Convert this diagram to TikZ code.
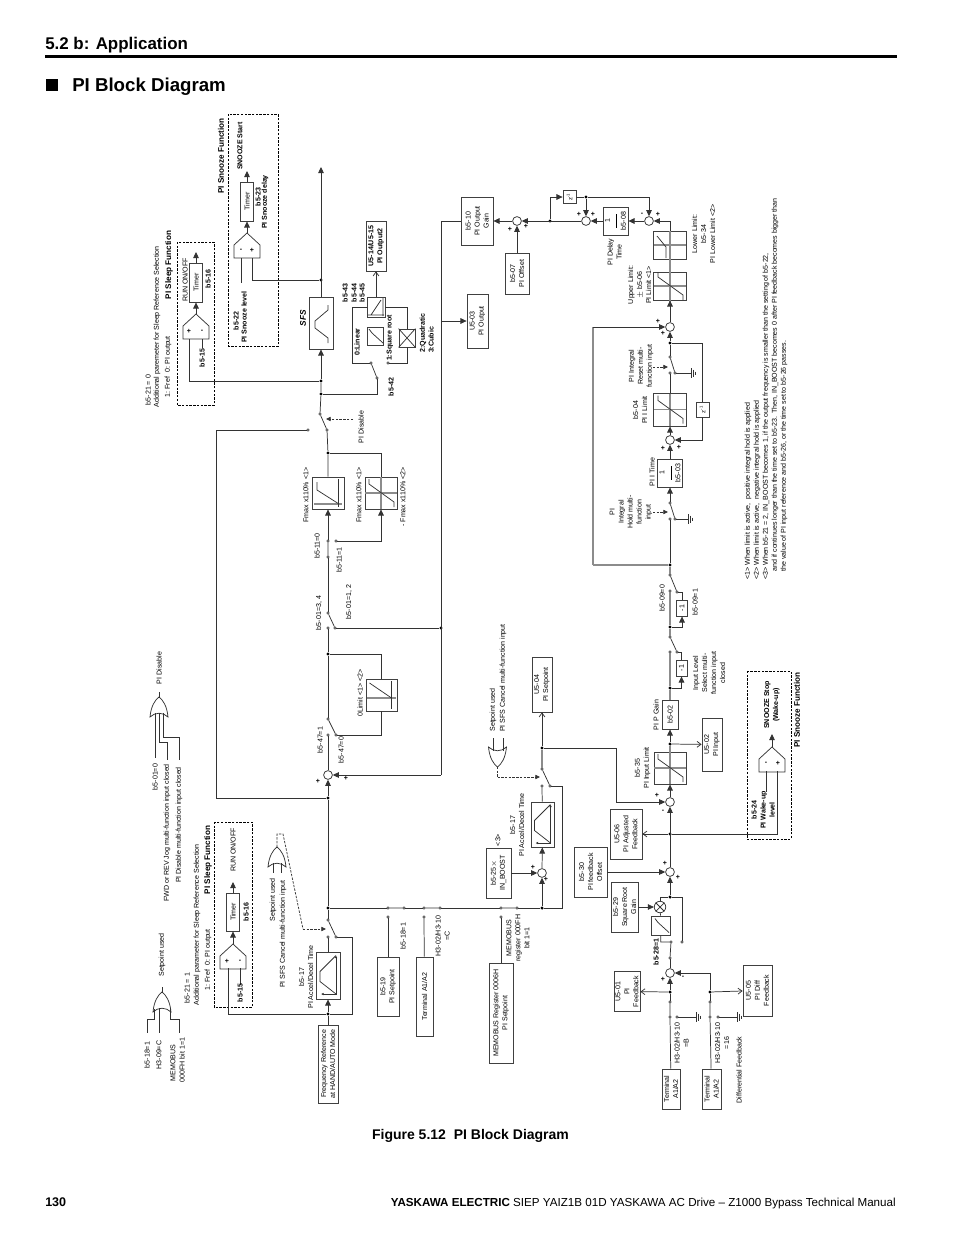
\documentclass[tikz,border=0pt]{standalone}
\usepackage{fontspec}
\setmainfont{Liberation Sans}
\usetikzlibrary{arrows.meta}
\newcommand{\fsm}{\fontsize{5.3}{6.75}\selectfont}
\newcommand{\fsb}{\fontsize{5.3}{6.75}\selectfont\bfseries}
\newcommand{\fsh}{\fontsize{6.1}{7.5}\selectfont\bfseries}
\tikzset{
  every pic/.style={yscale=-1},
  wire/.style={line width=.55pt,draw=black!80},
  gw/.style={line width=1pt,draw=black!45},
  ar/.style={wire,-{Triangle[length=4.6pt,width=4.2pt]}},
  oar/.style={wire,-{Straight Barb[length=3pt,width=4.4pt]}},
  bx/.style 2 args={draw=black!75,line width=.6pt,fill=white,rotate=90,align=center,inner sep=0pt,font=\fsm,minimum height=#1*0.75pt,minimum width=#2*0.75pt},
  sumc/.style={circle,draw=black!80,line width=.55pt,fill=white,inner sep=0pt,minimum size=6.6pt},
  cont/.style={circle,draw=black!80,line width=.4pt,fill=white,inner sep=0pt,minimum size=1.8pt},
  jn/.style={circle,fill=black,inner sep=0pt,minimum size=2.6pt},
  lab/.style={rotate=90,align=center,inner sep=0pt,font=\fsm},
  labb/.style={rotate=90,align=center,inner sep=0pt,font=\fsb},
  labh/.style={rotate=90,align=center,inner sep=0pt,font=\fsh},
  sgn/.style={inner sep=0pt,font=\fsb},
  dbox/.style={line width=.6pt,dash pattern=on 1.8pt off 1pt},
  ddash/.style={wire,dash pattern=on 1.8pt off 1pt},
  limit/.pic={
    \draw[gw] (-16,0) -- (16,0) (0,-16) -- (0,16);
    \draw[wire] (-12,-14) -- (-12,-9) -- (13,9) -- (13,14);},
  ramp/.pic={
    \draw[wire,{Latex[length=2pt,width=2pt]}-{Latex[length=2pt,width=2pt]}] (8,-20) -- (8,18.5) -- (-7,18.5);
    \draw[wire] (8,-20) -- (-8,-4) -- (-8,6) -- (8,18.5);},
  sqroot/.pic={\draw[wire] (8,7) -- (-3,-3) -- (-6,-7);},
  orgate/.pic={
    \draw[wire,fill=white] (0,0) .. controls (4,3) and (8,9) .. (9,20) .. controls (4,15) and (-4,15) .. (-9,20) .. controls (-8,9) and (-4,3) .. (0,0) -- cycle;},
  cmpr/.pic={
    \draw[wire] (0,0) -- (13,12) -- (13,25) -- (-13,25) -- (-13,12) -- cycle;},
  grnd/.pic={\draw[wire] (0,-5) -- (0,5) (2,-3.5) -- (2,3.5) (4,-1.5) -- (4,1.5);}
}
\begin{document}
\begin{tikzpicture}[x=0.75pt,y=0.75pt,yscale=-1,xscale=1]
\useasboundingbox (0,0) rectangle (954,1235);
\fill[white] (0,0) rectangle (954,1235);

% page header and footer
\node[anchor=base west,inner sep=0pt,font=\fontsize{12.7}{14}\selectfont\bfseries] (hdsec) at (45,49) {5.2 b: Application};
\fill (45,55) rectangle (897,58);
\fill (46,79) rectangle (58,91);
\node[anchor=base west,inner sep=0pt,font=\fontsize{14}{16}\selectfont\bfseries] (hdttl) at (72,91) {PI Block Diagram};
\node[anchor=base,inner sep=0pt,font=\fontsize{10.5}{12}\selectfont\bfseries] (figcap) at (470.5,1139) {Figure 5.12\ \ PI Block Diagram};
\node[anchor=base west,inner sep=0pt,font=\fontsize{9.4}{11}\selectfont\bfseries] (pgno) at (45,1206) {130};
\node[anchor=base east,inner sep=0pt,font=\fontsize{8.72}{11}\selectfont] (pgft) at (896,1206) {\textbf{YASKAWA ELECTRIC} SIEP YAIZ1B 01D YASKAWA AC Drive -- Z1000 Bypass Technical Manual};

%Dashed frames
\draw[dbox] (228,114) rectangle (278,346);
\draw[dbox] (177,242) rectangle (214,405);
\draw[dbox] (214,822) rectangle (252,1007);
\draw[dbox] (747,671) rectangle (791,839);

%Summing points
\foreach \nm/\cx/\cy in {sA/517/221,sB/586/221,sC/649/221,sD/670/327,sE/670/440,sF/670/802,sG/670/872,sH/670/973,sI/542/873,sJ/328/775}
  {\node[sumc] (\nm) at (\cx,\cy) {};}
\node[sumc,minimum size=8.6pt] (mul) at (660,907) {};
\draw[wire] (mul.45) -- (mul.225) (mul.135) -- (mul.315);

%Contacts
\foreach \nm/\cx/\cy in {pdu/320/414,pdb/327/430,pdl/308/430,lnu/371/363,lnb/388/363,lnp/377/378,
  fbu/328/541,fba/328/557,fbb/336/541,oau/328/613,oab/328/628,oac/335/628,lmu/328/719,lma/328/735,lmb/336/735,
  cnu/328/920,cna/328/937,cnb/336/937,spa/388/908,spb/404/908,spc/388/917,tma/424/908,tmb/440/908,tmc/424/917,
  mba/501/908,mbb/517/908,mbc/501/917,acu/542/769,aca/542/786,acb/550/786,
  rsu/670/357,rsa/670/373,rsb/675/373,hdu/670/503,hda/670/519,hdb/675/519,
  nau/670/575,naa/670/591,nab/677/592,nbu/670/637,nba/670/652,nbb/677/652,
  sru/671/942,srv/682/942,srp/670/958,fbt/670/1002,fbl/670/1017,fbg/677/1017,dft/710/1002,dfl/710/1017,dfg/718/1017}
  {\node[cont] (\nm) at (\cx,\cy) {};}

%Junctions
\foreach \nm/\cx/\cy in {jsn/321/280,jsl/321/381,jlk/321/394,jfi/328/453,jlm/328/654,jbk/441/628,jmn/328/798,jrf/328/908,jfq/328/1014,
  jbt/542/908,jst/542/748,jil/670/565,jna/670/627,jnb/670/688,jpi/670/744,jfd/670/834,jsq/670/897,jfa/670/992,jfc/710/992,
  jrs/670/343,jzf/550/221,jzb/586/197}
  {\node[jn] (\nm) at (\cx,\cy) {};}

%Free corners and line ends
\foreach \nm/\cx/\cy in {ctop/321/167,cga/189/381,cgb/189/339,cgc/202/339,cgd/202/348,cge/252/258,cgf/252/280,cgg/241/258,cgh/241/283,
  capa/196/314,cena/196/252,capb/247/233,cenb/247/171,capc/233/944,cenc/233/882,capd/772/747,cend/772/734,
  cla/228/968,clb/228/1014,clc/240/968,cld/240/985,cra/352/1014,crb/352/937,
  cwa/777/771,cwb/777/834,cwc/766/771,cwd/766/792,cpa/441/221,cpb/441/775,cpc/441/321,
  lna/352/363,lnc/352/307,lnd/407/307,lne/407/363,lnf/377/394,bka/216/430,bkb/216/798,
  bta/562/908,btb/562/786,ina/616/748,inb/616/802,ica/593/565,icb/593/327,lrc/670/221,msa/660/897,sra/660.7/942,
  ora/277/847,orb/277/834,orc/283/834,ord/303/929,ore/326/929,ofa/497.5/767,ofb/497.5/777,ofc/540/777}
  {\coordinate (\nm) at (\cx,\cy);}

%Blocks
\node[bx={24}{52},font=\fsb] (sfs) at (321,323) {};
\node[bx={13}{39},font=\fsm] (tmr) at (196,282.5) {Timer};
\node[bx={13}{39},font=\fsm] (tms) at (247,201.5) {Timer};
\node[bx={13}{38},font=\fsm] (tml) at (233,912) {Timer};
\node[bx={20}{50}] (uxa) at (376,246) {\fsb U5-14/U5-15\\\fsb PI Output2};
\node[bx={18}{20}] (lnl) at (376,307) {};
\node[bx={16}{18}] (sqa) at (375,336) {};
\node[bx={16}{18}] (xbx) at (407,338) {};
\node[bx={21}{54}] (uoc) at (477.5,321) {U5-03\\PI Output};
\node[bx={32}{48}] (bog) at (477,221) {b5-10\\PI Output\\Gain};
\node[bx={24}{41}] (bof) at (517,273.5) {b5-07\\PI Offset};
\node[bx={13}{13}] (zaa) at (569.5,197) {\fontsize{4.5}{5}\selectfont z\textsuperscript{-1}};
\node[bx={25}{28}] (bdl) at (615.5,221) {1\\[-1.5pt]\rule{10pt}{.4pt}\\b5-08};
\node[bx={33}{28}] (lol) at (670,245) {};
\node[bx={33}{28}] (upl) at (670,286) {};
\node[bx={13}{15}] (zbb) at (702.5,409.5) {\fontsize{4.5}{5}\selectfont z\textsuperscript{-1}};
\node[bx={33}{33}] (ilm) at (670,409.5) {};
\node[bx={25}{28}] (bit) at (670,473) {1\\[-1.5pt]\rule{10pt}{.4pt}\\b5-03};
\node[bx={11}{16}] (nga) at (682,608) {-1};
\node[bx={11}{16}] (ngb) at (681.5,668) {-1};
\node[bx={16}{29}] (bpg) at (670,714.5) {b5-02};
\node[bx={20}{53}] (uin) at (712,744.5) {U5-02\\PI Input};
\node[bx={32}{32}] (ilt) at (670,768) {};
\node[bx={32}{50}] (uaj) at (626,834) {U5-06\\PI Adjusted\\Feedback};
\node[bx={33}{50}] (bfo) at (590.5,872) {b5-30\\PI feedback\\Offset};
\node[bx={27}{50}] (bsr) at (624.5,907) {b5-29\\Square Root\\Gain};
\node[bx={19}{19}] (sqb) at (661,925.5) {};
\node[bx={26}{40}] (ufb) at (627,991.5) {U5-01\\PI\\Feedback};
\node[bx={29}{51}] (udf) at (757.5,990.5) {U5-05\\PI Diff\\Feedback};
\node[bx={18}{40}] (tra) at (671,1089) {Terminal\\A1/A2};
\node[bx={19}{40}] (trb) at (711.5,1089) {Terminal\\A1/A2};
\node[bx={20}{55}] (usp) at (542,684.5) {U5-04\\PI Setpoint};
\node[bx={23}{45}] (arb) at (542.5,824.5) {};
\node[bx={25}{50}] (bbs) at (498.5,873) {b5-25$\times$\\IN\_BOOST};
\node[bx={24}{47}] (arl) at (328,975.5) {};
\node[bx={20}{78}] (frq) at (328,1064) {Frequency Reference\\at HAND/AUTO Mode};
\node[bx={22}{59}] (bsp) at (388,986.5) {b5-19\\PI Setpoint};
\node[bx={17}{79}] (tmm) at (424.5,996.5) {Terminal A1/A2};
\node[bx={24}{100}] (mbr) at (501,1013) {MEMOBUS Register 0006H\\PI Setpoint};
\node[bx={32}{32}] (fma) at (328,493) {};
\node[bx={32}{32}] (fmb) at (381,493) {};
\node[bx={31}{32}] (lmz) at (381.5,695) {};

%Block inner marks
\draw[wire] (328,305) -- (328,310) -- (315,321) -- (315,328) -- (328,338) -- (328,343);
\pic at (670,286) {limit};
\pic at (670,409.5) {limit};
\pic at (670,768) {limit};
\pic at (381,493) {limit};
\draw[gw] (654,245) -- (686,245) (670,231) -- (670,259);
\draw[wire] (657,236) -- (666,247) -- (666,258);
\draw[gw] (314,504) -- (342,504); \draw[wire] (338,479) -- (338,507);
\draw[wire] (317,482) -- (317,490) -- (339,504);
\draw[gw] (367,698) -- (396,698); \draw[wire] (391.5,681) -- (391.5,709);
\draw[wire] (369.5,683) -- (391.5,698);
\draw[wire] (371,315) -- (381,300) (383,298) -- (383,316) (368,315) -- (384,315);
\pic at (375,336) {sqroot};
\pic at (661,925.5) {sqroot};
\pic at (328,975.5) {ramp};
\pic at (542.5,824.5) {ramp};
\draw[wire] (xbx.north west) -- (xbx.south east) (xbx.north east) -- (xbx.south west);

%Comparators and gates
\pic at (capa) {cmpr};
\pic at (capb) {cmpr};
\pic at (capc) {cmpr};
\pic at (capd) {cmpr};
\coordinate (ogt) at (159,697);
\coordinate (ogl) at (162,992);
\coordinate (ogs) at (277,847);
\pic at (ogt) {orgate};
\pic at (ogl) {orgate};
\pic at (ogs) {orgate};
\pic[yscale=-1] at (ofa) {orgate};
\pic at (691,373) {grnd};
\pic at (688,519) {grnd};
\pic at (696,1017) {grnd};
\pic at (737,1017) {grnd};

%Switch blades
\draw[wire] (pdu) -- (pdb) (lnu) -- (lnp) (fba) -- (fbu) (oau) -- (oac) (lmu) -- (lmb) (cnu) -- (cnb)
  (spa) -- (spb) (tma) -- (tmb) (mba) -- (mbb) (acu) -- (acb) (rsu) -- (rsb) (hdu) -- (hdb)
  (nau) -- (nab) (nbu) -- (nbb) (srp) -- (sru) (fbt) -- (fbl) (dft) -- (dfl);

%Main forward path, reference side
\draw[wire] (frq) -- (jfq);
\draw[ar] (jfq) -- (arl);
\draw[wire] (arl) -- (cna);
\draw[wire] (cnu) -- (jrf) -- (jmn);
\draw[ar] (jmn) -- (sJ);
\draw[wire] (sJ) -- (lma);
\draw[wire] (lmu) -- (jlm) -- (oab);
\draw[wire] (oau) -- (fba);
\draw[ar] (fbu) -- (fma);
\draw[wire] (fma) -- (jfi) -- (pdb);
\draw[wire] (pdu) -- (jlk) -- (jsl);
\draw[ar] (jsl) -- (sfs);
\draw[ar] (sfs) -- (ctop);
\draw[wire] (jfq) -- (clb) -- (cla);
\draw[wire] (jfq) -- (cra) -- (crb) -- (cnb);
\draw[wire] (pdl) -- (bka) -- (bkb) -- (jmn);
\draw[wire] (jfi) -| (fmb);
\draw[ar] (fbb) -| (fmb);
\draw[wire] (jlm) -| (lmz);
\draw[wire] (lmz) |- (lmb);
\draw[wire] (oac) -- (jbk);

%Setpoint selection
\draw[wire] (jrf) -- (spa);
\draw[wire] (spb) -- (tma);
\draw[wire] (tmb) -- (mba);
\draw[wire] (mbb) -- (jbt) -- (bta) -- (btb) -- (acb);
\draw[ar] (jbt) -- (sI);
\draw[ar] (sI) -- (arb);
\draw[wire] (arb) -- (aca);
\draw[ar] (bbs) -- (sI);
\draw[wire] (bsp) -- (spc);
\draw[wire] (tmm) -- (tmc);
\draw[wire] (mbr) -- (mbc);
\draw[gw] (acu) -- (jst);
\draw[oar] (jst) -- (usp);
\draw[wire] (jst) -- (ina) -- (inb);
\draw[ar] (inb) -- (sF);

%PI loop
\draw[ar] (sF) -- (ilt);
\draw[gw] (ilt) -- (jpi);
\draw[ar] (jpi) -- (bpg);
\draw[oar] (jpi) -- (uin);
\draw[gw] (bpg) -- (jnb) -- (nba);
\draw[ar] (jnb) -| (ngb);
\draw[wire] (ngb) |- (nbb);
\draw[gw] (nbu) -- (jna) -- (naa);
\draw[ar] (jna) -| (nga);
\draw[wire] (nga) |- (nab);
\draw[gw] (nau) -- (jil);
\draw[wire] (jil) -- (hda);
\draw[ar] (hdu) -- (bit);
\draw[ar] (bit) -- (sE);
\draw[ar] (sE) -- (ilm);
\draw[wire] (ilm) -- (rsa);
\draw[wire] (rsu) -- (jrs);
\draw[ar] (jrs) -- (sD);
\draw[wire] (jrs) -| (zbb);
\draw[ar] (zbb) |- (sE);
\draw[gw] (jil) -- (ica);
\draw[gw] (ica) -- (icb);
\draw[ar] (icb) -- (sD);
\draw[ar] (sD) -- (upl);
\draw[gw] (upl) -- (lol);
\draw[wire] (lol) -- (lrc);
\draw[ar] (lrc) -- (sC);
\draw[ar] (sC) -- (bdl);
\draw[ar] (bdl) -- (sB);
\draw[ar] (sB) -- (sA);
\draw[ar] (sA) -- (bog);
\draw[ar] (bof) -- (sA);
\draw[ar] (jzf) |- (zaa);
\draw[wire] (zaa) -- (jzb);
\draw[ar] (jzb) -- (sB);
\draw[ar] (jzb) -| (sC);
\draw[wire] (bog) -- (cpa) -- (cpb);
\draw[ar] (cpb) -- (sJ);
\draw[ar] (cpc) -- (uoc);

%Output stage select
\draw[wire] (jlk) -- (lnf) -- (lnp);
\draw[wire] (lnu) -- (lna) -- (lnc) -- (lnl);
\draw[wire] (lnl) -- (lnd) -- (xbx);
\draw[wire] (xbx) -- (lne) -- (lnb);
\draw[oar] (lnl) -- (uxa);

%Feedback side
\draw[ar] (sG) -- (sF);
\draw[ar] (jsq) -- (sG);
\draw[ar] (bfo) -- (sG);
\draw[oar] (jfd) -- (uaj);
\draw[wire] (jfd) -- (cwb) -- (cwa);
\draw[wire] (jsq) -| (srv);
\draw[wire] (mul) -- (msa) -- (jsq);
\draw[ar] (bsr) -- (mul);
\draw[wire] (mul) -- (sqb);
\draw[wire] (sqb) -- (sra) -- (sru);
\draw[wire] (srp) -- (sH);
\draw[ar] (jfa) -- (sH);
\draw[wire] (fbt) -- (jfa);
\draw[oar] (jfa) -- (ufb);
\draw[wire] (tra) -- (fbl);
\draw[wire] (fbg) -- (696,1017);
\draw[wire] (dfg) -- (737,1017);
\draw[wire] (rsb) -- (691,373);
\draw[wire] (hdb) -- (688,519);
\draw[wire] (trb) -- (dfl);
\draw[wire] (dft) -- (jfc);
\draw[oar] (jfc) -- (udf);
\draw[ar] (jfc) |- (sH);

%Comparator wiring
\draw[ar] (capa) -- (tmr);
\draw[ar] (tmr) -- (cena);
\draw[ar] (capb) -- (tms);
\draw[ar] (tms) -- (cenb);
\draw[ar] (capc) -- (tml);
\draw[ar] (tml) -- (cenc);
\draw[ar] (capd) -- (cend);
\draw[wire] (cgb) -- (cga) -- (jsl);
\draw[wire] (cgc) -- (cgd);
\draw[wire] (cge) -- (cgf) -- (jsn);
\draw[wire] (cgg) -- (cgh);
\draw[wire] (clc) -- (cld);
\draw[wire] (cla) -- (clb);
\draw[wire] (cwc) -- (cwd);

%Dashed control lines
\coordinate (pda) at (353,419);
\coordinate (pdc) at (326,419);
\draw[ddash,-{Triangle[length=3.5pt,width=3.2pt]}] (pda) -- (pdc);
\coordinate (rsd) at (653,367);
\coordinate (rse) at (668,367);
\draw[ddash,-{Triangle[length=3.5pt,width=3.2pt]}] (rsd) -- (rse);
\coordinate (hdd) at (653,512);
\coordinate (hde) at (668,512);
\draw[ddash,-{Triangle[length=3.5pt,width=3.2pt]}] (hdd) -- (hde);
\draw[ddash] (ora) -- (orb) -- (orc) -- (ord);
\draw[ddash,-{Triangle[length=3.5pt,width=3.2pt]}] (ord) -- (ore);
\draw[ddash] (ofa) -- (ofb);
\draw[ddash,-{Triangle[length=3.5pt,width=3.2pt]}] (ofb) -- (ofc);

%Gate inputs
\draw[wire] (159,692) -- (159,697);
\draw[wire] (155,713) -- (155,758);
\draw[wire] (159,713) -- (159,742) -- (167,742) -- (167,760);
\draw[wire] (163,713) -- (163,737) -- (179,737) -- (179,760);
\draw[wire] (162,987) -- (162,992);
\draw[wire] (154,1009) -- (154,1019) -- (147,1019) -- (147,1033);
\draw[wire] (159,1008) -- (159,1033);
\draw[wire] (170,1009) -- (170,1019) -- (179,1019) -- (179,1033);
\draw[wire] (273,863) -- (273,873);
\draw[wire] (281,863) -- (281,873);
\draw[wire] (493,738) -- (493,751);
\draw[wire] (503,738) -- (503,751);

%Signs
\foreach \nm/\cx/\cy/\st in {sna/189/331/+,snb/202/331/-,snc/252/250/+,snd/241/250/-,sne/227/961/+,snf/240/961/-,sng/778/763/+,snh/766/763/-,
  sni/318/781/+,snj/346/778/+,snk/533/867/+,snl/546/879/+,snm/510/229/+,snn/526/226/+,
  sno/579/214/+,snp/593/214/+,snq/642/214/-,snr/658/214/+,sns/658/321/+,snt/663/333/+,
  snu/663/448/+,snv/679/447/+,snw/657/795/+,snx/663/811/-,sny/665/863/+,snz/678/877/+,spl/663/979/+,spm/683/977/-}
  {\node[sgn] (\nm) at (\cx,\cy) {\st};}

%Text, upper part
\node[labh] (tsnz) at (221,156) {PI Snooze Function};
\node[labb] (tsta) at (240,146) {SNOOZE Start};
\node[labb] (tb523) at (258,197) {b5-23};
\node[labb] (tdel) at (265,202) {PI Snooze delay};
\node[labb] (tb522) at (236,321) {b5-22};
\node[labb] (tlev) at (244,317) {PI Snooze level};
\node[lab] (trun) at (185,280) {RUN ON/OFF};
\node[labb] (tb516) at (208,279) {b5-16};
\node[labb] (tb515) at (202,358) {b5-15};
\node[labh] (tslp) at (169,265) {PI Sleep Function};
\node[lab] (tb521) at (148,390) {b5-21 = 0};
\node[lab] (tadd) at (157,327) {Additional paremeter for Sleep Reference Selection};
\node[lab] (tfrf) at (168,367) {1: Fref\ \ 0: PI output};
\node[labb,font=\fontsize{6.2}{7}\selectfont\bfseries\itshape] (tsfs) at (303,318) {SFS};
\node[labb] (tlin) at (357,342) {0:Linear};
\node[labb] (tsqr) at (390,338) {1:Square root};
\node[labb] (tqua) at (423,333) {2:Quadratic};
\node[labb] (tcub) at (431,340) {3:Cubic};
\node[labb] (tb542) at (391,387) {b5-42};
\node[labb] (tb543) at (345,293) {b5-43};
\node[labb] (tb544) at (354,293) {b5-44};
\node[labb] (tb545) at (362,293) {b5-45};
\node[lab] (tdis) at (361,427) {PI Disable};

%Text, PI loop
\node[lab] (tdly) at (614.5,252) {PI Delay\\Time};
\node[lab] (tupp) at (639.5,285) {Upper Limit:\\$\pm$ b5-06\\PI Limit <1>};
\node[lab] (tlow) at (703.5,234) {Lower Limit:\\b5-34\\PI Lower Limit <2>};
\node[lab] (trst) at (641,366) {PI Integral\\Reset multi-\\function input};
\node[lab] (til) at (640,410) {b5-04\\PI I Limit};
\node[lab] (tit) at (652,472) {PI I Time};
\node[lab] (thld) at (631,512) {PI\\Integral\\Hold multi-\\function\\input};
\node[lab] (tb59a) at (662,598) {b5-09=0};
\node[lab] (tb59b) at (695,602) {b5-09=1};
\node[lab] (tinl) at (709,673) {Input Level\\Select multi-\\function input\\closed};
\node[lab] (tgn) at (656,715) {PI P Gain};
\node[lab] (tlim) at (642.5,768) {b5-35\\PI Input Limit};
\node[labb] (tstp) at (772,705) {SNOOZE Stop\\(Wake-up)};
\node[labh] (tsnf) at (797,710) {PI Snooze Function};
\node[labb] (twak) at (763,810) {b5-24\\PI Wake-up\\level};
\node[lab,anchor=west] (tna) at (748,580) {<1> When limit is active,\ \ positive integral hold is applied};
\node[lab,anchor=west] (tnb) at (757,580) {<2> When limit is active,\ \ negative integral hold is applied};
\node[lab,anchor=west] (tnc) at (766,580) {<3> When b5-21 = 2, IN\_BOOST becomes 1, if the output frequency is smaller than the setting of b5-22,};
\node[lab,anchor=west] (tnd) at (775,572) {and if continues longer than the time set to b5-23. Then, IN\_BOOST becomes 0 after PI feedback becomes bigger than};
\node[lab,anchor=west] (tne) at (784,572) {the value of PI input reference and b5-26, or the time set to b5-26 passes.};

%Text, limiter and selector labels
\node[lab] (tfa) at (306,495) {Fmax x110\% <1>};
\node[lab] (tfb) at (359,495) {Fmax x110\% <1>};
\node[lab] (tfc) at (403,497) {- Fmax x110\% <2>};
\node[lab] (tb11a) at (317,546) {b5-11=0};
\node[lab] (tb11b) at (339,560) {b5-11=1};
\node[lab] (tb01a) at (319,613) {b5-01=3, 4};
\node[lab] (tb01b) at (349,602) {b5-01=1, 2};
\node[lab] (tzl) at (360,693) {0Limit <1> <2>};
\node[lab] (tb47a) at (320,740) {b5-47=1};
\node[lab] (tb47b) at (341,750) {b5-47=0};
\node[lab] (tpdo) at (159,668) {PI Disable};
\node[lab] (tb01c) at (155,777) {b5-01=0};
\node[lab] (tfwd) at (167,833) {FWD or REV Jog multi-function input closed};
\node[lab] (tpmf) at (179,825) {PI Disable multi-function input closed};
\node[lab] (tsua) at (493,710) {Setpoint used};
\node[lab] (tsca) at (503,678) {PI SFS Cancel multi-function input};
\node[lab] (tb17a) at (517,825) {b5-17\\PI Accel/Decel Time};
\node[lab] (tthr) at (498,840) {<3>};

%Text, left part
\node[lab] (tsub) at (273,900) {Setpoint used};
\node[lab] (tscb) at (283,934) {PI SFS Cancel multi-function input};
\node[lab] (trnb) at (233,850) {RUN ON/OFF};
\node[labb] (tb516b) at (246,912) {b5-16};
\node[labb] (tb515b) at (240,993) {b5-15};
\node[labh] (tslb) at (208,860) {PI Sleep Function};
\node[labb,font=\fsm] (tfrb) at (208,960) {1: Fref\ \ 0: PI output};
\node[lab] (tadb) at (197,925) {Additional parameter for Sleep Reference Selection};
\node[lab] (tb21b) at (187,988) {b5-21 = 1};
\node[lab] (tb17b) at (306,977) {b5-17\\PI Accel/Decel Time};
\node[lab] (tsuc) at (162,955) {Setpoint used};
\node[lab] (tb18) at (147,1055) {b5-18=1};
\node[lab] (th39) at (159,1055) {H3-09=C};
\node[lab] (tmbs) at (173,1063) {MEMOBUS};
\node[lab] (tmbb) at (182,1060) {000FH bit 1=1};
\node[lab] (tb18b) at (403,936) {b5-18=1};
\node[lab] (thc) at (442.5,936) {H3-02/H3-10\\=C};
\node[lab] (tmrg) at (518,938) {MEMOBUS\\register 000FH\\bit 1=1};

%Text, feedback part
\node[labb] (tb528) at (656,952) {b5-28=1};
\node[lab] (thb) at (681.5,1043) {H3-02/H3-10\\=B};
\node[lab] (th16) at (722,1043) {H3-02/H3-10\\=16};
\node[lab] (tdff) at (739,1070) {Differential Feedback};
\end{tikzpicture}
\end{document}
